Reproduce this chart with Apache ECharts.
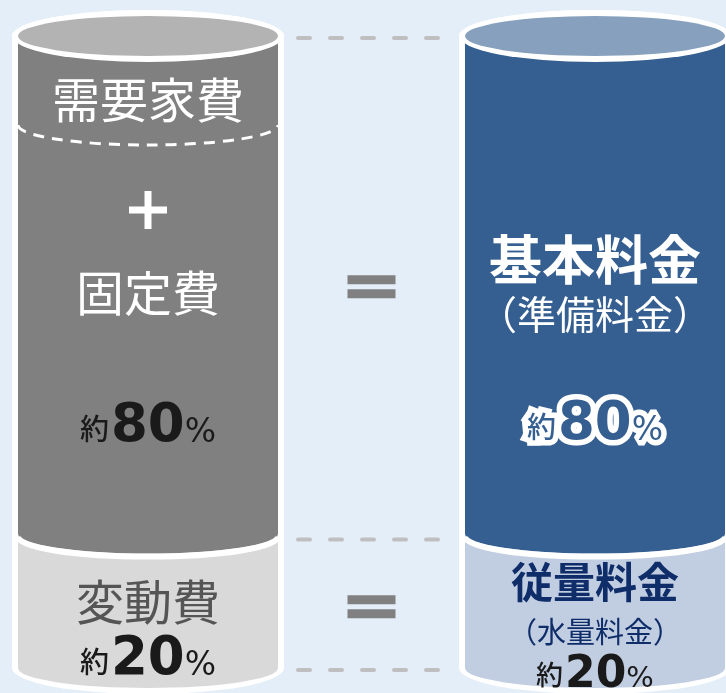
<!DOCTYPE html>
<html>
<head>
<meta charset="utf-8">
<script src="https://cdn.jsdelivr.net/npm/echarts@6/dist/echarts.min.js"></script>
<style>
  html, body { margin: 0; padding: 0; background: #e4eef8; }
  #chart { width: 726px; height: 693px; }
</style>
</head>
<body>
<div id="chart"></div>
<script>
// Two cylinders: cost breakdown (left) and tariff breakdown (right)
const columns = ['費用', '料金'];
const variableShare = [20, 20];   // lower section, %
const fixedShare = [80, 80];      // upper section, %

const demandCaption = ['需要家費', null];
const upperCaption = ['固定費', '基本料金'];
const upperSubCaption = [null, '（準備料金）'];
const lowerCaption = ['変動費', '従量料金'];
const lowerSubCaption = [null, '（水量料金）'];

const FONT = '"Noto Sans CJK JP", "Noto Sans", sans-serif';
const NUM_FONT = '"DejaVu Sans", "Noto Sans", sans-serif';

const palette = [
  { cap: '#b3b3b3', upper: '#808080', lower: '#d9d9d9',
    upperText: '#ffffff', lowerText: '#555555', lowerSubText: '#555555',
    pctUpper: '#1a1a1a', pctLower: '#1a1a1a', outline: false, upperBold: false, lowerBold: false },
  { cap: '#87a0be', upper: '#365f91', lower: '#c1cde1',
    upperText: '#ffffff', lowerText: '#0f2d69', lowerSubText: '#0f2d69',
    pctUpper: '#365f91', pctLower: '#1a1a1a', outline: true, upperBold: true, lowerBold: true }
];

const RX = 130, RY = 20, RIM = 6;

function ellipsePath(cx, cy, a, b) {
  return `M${cx - a} ${cy} A${a} ${b} 0 1 0 ${cx + a} ${cy} A${a} ${b} 0 1 0 ${cx - a} ${cy} Z`;
}

// text metrics helper, so the pieces of "約NN%" can share one baseline
const measureCtx = document.createElement('canvas').getContext('2d');
function fontString(size, weight, family) { return `normal ${weight} ${size}px ${family}`; }
function measure(str, font) {
  measureCtx.font = font;
  measureCtx.textBaseline = 'middle';
  const w = measureCtx.measureText(str).width;
  const below = measureCtx.measureText('H').actualBoundingBoxDescent; // middle -> baseline
  return { width: w, baselineOffset: below };
}

function pctLabel(children, cx, baseline, value, color, outline, sizes) {
  const parts = [
    { t: '約', size: sizes[0], family: FONT, weight: 500, lift: 2, gap: 2 },
    { t: String(value), size: sizes[1], family: NUM_FONT, weight: 'bold', lift: 0, gap: 0 },
    { t: '%', size: sizes[2], family: NUM_FONT, weight: 'normal', lift: 0, gap: 0 }
  ];
  let total = 0;
  parts.forEach(function (p) {
    const m = measure(p.t, fontString(p.size, p.weight, p.family));
    p.w = m.width; p.off = m.baselineOffset;
    total += p.w + p.gap;
  });
  let x = cx - total / 2;
  parts.forEach(function (p) { p.x = x; x += p.w + p.gap; });
  const make = function (p, stroke) {
    return {
      type: 'text', x: p.x, y: baseline - p.lift - p.off,
      style: {
        text: p.t, fontSize: p.size, fontFamily: p.family, fontWeight: p.weight,
        align: 'left', verticalAlign: 'middle',
        fill: stroke ? null : color,
        stroke: stroke ? '#ffffff' : null, lineWidth: stroke ? 11 : 0, lineJoin: 'round'
      }
    };
  };
  if (outline) parts.forEach(function (p) { children.push(make(p, true)); });
  parts.forEach(function (p) { children.push(make(p, false)); });
}

function label(x, y, text, size, color, bold) {
  return {
    type: 'text', x: x, y: y,
    style: { text: text, fontSize: size, fontFamily: FONT, fontWeight: bold ? 'bold' : 'normal',
             fill: color, align: 'center', verticalAlign: 'middle' }
  };
}

const BIG = [29, 53, 33];
const SMALL = [27, 44, 29];

function renderItem(params, api) {
  const i = params.dataIndex;
  const v = api.value(1), f = api.value(2);
  const base = api.coord([i, 0]);
  const cx = base[0], yBottom = base[1];
  const yMid = api.coord([i, v])[1];
  const yTop = api.coord([i, v + f])[1];
  const cyBot = yBottom - RY, cyMid = yMid - RY, cyTop = yTop + RY;
  const R = RX + RIM, RR = RY + RIM;
  const p = palette[i];
  const children = [];

  // white outline of the whole cylinder
  children.push({ type: 'path', shape: {
    pathData: `M${cx - R} ${cyTop} A${R} ${RR} 0 0 1 ${cx + R} ${cyTop} L${cx + R} ${cyBot} A${R} ${RR} 0 0 1 ${cx - R} ${cyBot} Z`
  }, style: { fill: '#ffffff' } });
  // lower section
  children.push({ type: 'path', shape: {
    pathData: `M${cx - RX} ${cyMid} L${cx - RX} ${cyBot} A${RX} ${RY} 0 0 0 ${cx + RX} ${cyBot} L${cx + RX} ${cyMid} Z`
  }, style: { fill: p.lower } });
  // upper section
  children.push({ type: 'path', shape: {
    pathData: `M${cx - RX} ${cyTop} L${cx - RX} ${cyMid} A${RX} ${RY} 0 0 0 ${cx + RX} ${cyMid} L${cx + RX} ${cyTop} Z`
  }, style: { fill: p.upper } });
  // white seam between sections
  children.push({ type: 'path', shape: {
    pathData: `M${cx - RX} ${cyMid + 3} A${RX} ${RY} 0 0 0 ${cx + RX} ${cyMid + 3}`
  }, style: { fill: null, stroke: '#ffffff', lineWidth: 6 } });
  // top cap
  children.push({ type: 'path', shape: { pathData: ellipsePath(cx, cyTop, R, RR) }, style: { fill: '#ffffff' } });
  children.push({ type: 'path', shape: { pathData: ellipsePath(cx, cyTop, RX, RY) }, style: { fill: p.cap } });

  if (demandCaption[i]) {
    // dashed divider under the demand charge
    children.push({ type: 'path', shape: {
      pathData: `M${cx - RX} ${cyTop + 89} A${RX} ${RY} 0 0 0 ${cx + RX} ${cyTop + 89}`
    }, style: { fill: null, stroke: '#ffffff', lineWidth: 3, lineDash: [11, 8] } });
    children.push(label(cx, 100, demandCaption[i], 48, p.upperText, false));
    // plus sign
    children.push({ type: 'rect', shape: { x: cx - 19, y: 210 - 3.5, width: 38, height: 7 }, style: { fill: p.upperText } });
    children.push({ type: 'rect', shape: { x: cx - 3.5, y: 210 - 19, width: 7, height: 38 }, style: { fill: p.upperText } });
    children.push(label(cx, 293, upperCaption[i], 48, p.upperText, false));
  } else {
    children.push(label(cx, 260, upperCaption[i], 53, p.upperText, p.upperBold));
  }
  if (upperSubCaption[i]) children.push(label(cx, 314, upperSubCaption[i], 39, p.upperText, false));

  pctLabel(children, cx, i === 0 ? 442 : 440, f, p.pctUpper, p.outline, BIG);

  if (lowerSubCaption[i]) {
    children.push(label(cx, 582, lowerCaption[i], 42, p.lowerText, p.lowerBold));
    children.push(label(cx, 632, lowerSubCaption[i], 29, p.lowerSubText, false));
    pctLabel(children, cx, 687, v, p.pctLower, false, SMALL);
  } else {
    children.push(label(cx, 602, lowerCaption[i], 48, p.lowerText, false));
    pctLabel(children, cx, 675, v, p.pctLower, false, BIG);
  }

  // connectors and equals signs towards the next cylinder
  if (i < columns.length - 1) {
    const nx = api.coord([i + 1, 0])[0];
    const x1 = cx + R + 14, x2 = nx - R - 14;
    [cyTop + 2, cyMid + 6, cyBot + 2].forEach(function (y) {
      children.push({ type: 'line', shape: { x1: x1, y1: y, x2: x2, y2: y },
        style: { stroke: '#bfbfbf', lineWidth: 4, lineDash: [12, 20], lineCap: 'round' } });
    });
    const mx = (cx + nx) / 2;
    [(cyTop + cyMid) / 2 + 2, (yMid + yBottom) / 2 - 14].forEach(function (y) {
      children.push({ type: 'rect', shape: { x: mx - 24, y: y - 11.5, width: 48, height: 9 }, style: { fill: '#808080' } });
      children.push({ type: 'rect', shape: { x: mx - 24, y: y + 2.5, width: 48, height: 9 }, style: { fill: '#808080' } });
    });
  }

  return { type: 'group', children: children };
}

const chart = echarts.init(document.getElementById('chart'), null, { renderer: 'canvas' });
chart.setOption({
  backgroundColor: '#e4eef8',
  animation: false,
  grid: { left: 148, right: 131, top: 16, bottom: 5 },
  xAxis: { type: 'value', min: 0, max: columns.length - 1, show: false },
  yAxis: { type: 'value', min: 0, max: 100, show: false },
  series: [{
    type: 'custom',
    name: '構成比',
    clip: false,
    renderItem: renderItem,
    encode: { x: 0, y: 1 },
    data: columns.map(function (c, i) { return { name: c, value: [i, variableShare[i], fixedShare[i]] }; })
  }]
});
</script>
</body>
</html>
